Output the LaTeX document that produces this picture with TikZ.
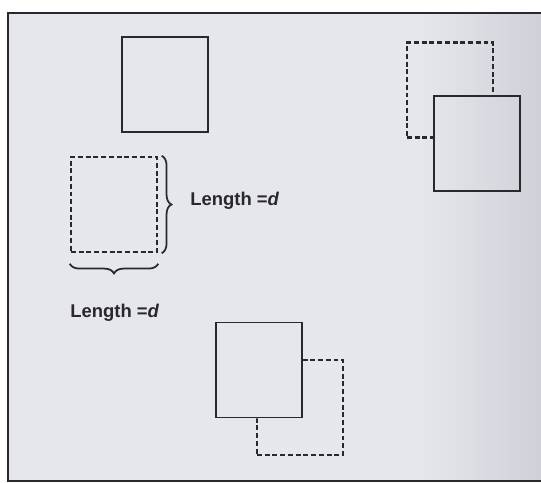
\documentclass[tikz,border=0pt]{standalone}
\usepackage{fontspec}
\setmainfont{Liberation Sans}
\usepackage{xcolor}
\usetikzlibrary{decorations.pathreplacing}

\definecolor{bgl}{RGB}{230,230,237}
\definecolor{bgr}{RGB}{208,208,216}
\definecolor{ink}{RGB}{40,40,45}

\tikzset{
  solidsq/.style={draw=ink, line width=1.1pt, minimum width=1.72cm, minimum height=1.9cm, inner sep=0pt},
  dashsq/.style={draw=ink, line width=1.4pt, dash pattern=on 2.8pt off 1.6pt, minimum width=1.72cm, minimum height=1.9cm, inner sep=0pt},
  brc/.style={draw=ink, line width=1pt, decorate, decoration={brace, amplitude=5.5pt}},
  lbl/.style={font=\fontsize{10.5}{12}\selectfont\bfseries, text=ink, inner sep=0pt, anchor=west}
}

\begin{document}
\begin{tikzpicture}[x=0.02cm, y=-0.02cm]
\useasboundingbox (0,0) rectangle (541,483);
% background and frame
\fill [white] (0,0) rectangle (541,483);
\fill [bgl] (8,13) rectangle (541,481);
\shade [left color=bgl, right color=bgr] (420,13) rectangle (541,481);
\draw [ink, line width=1.1pt] (545,13) -- (8,13) -- (8,481) -- (545,481);

% squares
\node [solidsq] (topsq) at (165,84.5) {};
\node [solidsq] (trsolid) at (477,143.5) {};
\node [dashsq] (leftsq) at (114,204.5) {};
\node [solidsq] (botsolid) at (259,370) {};

% dashed squares partly hidden behind the solid ones
\begin{scope}[even odd rule]
\clip (0,0) rectangle (541,483) (trsolid.north west) rectangle (trsolid.south east);
\node [dashsq] (trdash) at (450,90) {};
\end{scope}
\begin{scope}[even odd rule]
\clip (0,0) rectangle (541,483) (botsolid.north west) rectangle (botsolid.south east);
\node [dashsq] (botdash) at (300,407.5) {};
\end{scope}

% braces and labels
\draw [brc] ([xshift=2pt]leftsq.north east) -- ([xshift=2pt]leftsq.south east);
\draw [brc] ([yshift=-6pt]leftsq.south east) -- ([yshift=-6pt]leftsq.south west);
\node [lbl] (sidelbl) at (190,201) {Length =\textit{d}};
\node [lbl] (botlbl) at (70,313) {Length =\textit{d}};
\end{tikzpicture}
\end{document}
